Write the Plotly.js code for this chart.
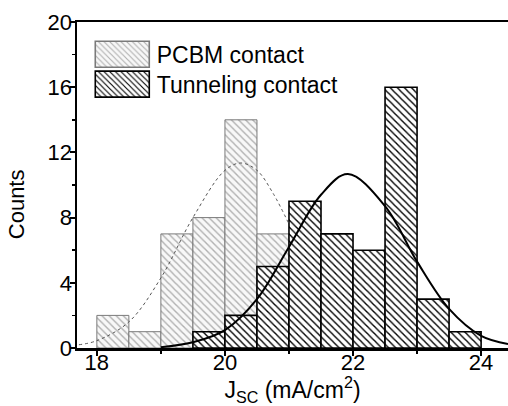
<!DOCTYPE html>
<html><head><meta charset="utf-8">
<script src="https://cdn.plot.ly/plotly-3.0.1.min.js"></script>
<style>html,body{margin:0;padding:0;background:#fff}#chart{width:508px;height:406px}</style>
</head><body><div id="chart"></div>
<script>
// Histogram bins (centers, width 0.5 mA/cm2) and counts
const pcbmBins = [18.25, 18.75, 19.25, 19.75, 20.25, 20.75];
const pcbmCounts = [2, 1, 7, 8, 14, 7];
const tunnelBins = [19.75, 20.25, 20.75, 21.25, 21.75, 22.25, 22.75, 23.25, 23.75];
const tunnelCounts = [1, 2, 5, 9, 7, 6, 16, 3, 1];
// Fit curves
const pcbmFitX = [17.72, 18.0, 18.5, 19.0, 19.5, 20.0, 20.25, 20.5, 20.75, 21.0];
const pcbmFitY = [0.2, 0.45, 1.6, 4.3, 8.0, 10.9, 11.35, 10.9, 9.5, 7.6];
const tunnelFitX = [19.0, 19.5, 20.0, 20.5, 21.0, 21.5, 21.92, 22.5, 23.0, 23.5, 24.0, 24.42];
const tunnelFitY = [0.05, 0.35, 1.1, 3.0, 6.2, 9.4, 10.67, 8.7, 5.3, 2.4, 0.75, 0.25];
const seriesNames = ['PCBM contact', 'Tunneling contact'];

const FONT = 'Liberation Sans, Arial, sans-serif';
const traces = [
  {type:'bar', x:pcbmBins, y:pcbmCounts, width:0.5, name:seriesNames[0],
   marker:{color:'#fbfbfb', line:{color:'#7a7a7a', width:1},
     pattern:{shape:'\\', fgcolor:'#b0b0b0', bgcolor:'#f8f8f8', size:5, solidity:0.28}}},
  {type:'bar', x:tunnelBins, y:tunnelCounts, width:0.5, name:seriesNames[1],
   marker:{color:'#ffffff', line:{color:'#000', width:1.6},
     pattern:{shape:'\\', fgcolor:'#000', bgcolor:'#ffffff', size:5, solidity:0.28}}},
  {type:'scatter', mode:'lines', x:pcbmFitX, y:pcbmFitY, showlegend:false,
   line:{color:'#555', width:1, dash:'dot', shape:'spline'}},
  {type:'scatter', mode:'lines', x:tunnelFitX, y:tunnelFitY, showlegend:false,
   line:{color:'#000', width:2, shape:'spline'}}
];
const layout = {
  width:508, height:406,
  margin:{l:77, r:0, t:22, b:58},
  paper_bgcolor:'#fff', plot_bgcolor:'#fff',
  barmode:'overlay', bargap:0,
  font:{family:FONT, size:22, color:'#000'},
  showlegend:true,
  legend:{x:0.025, y:0.97, xanchor:'left', yanchor:'top', bgcolor:'rgba(0,0,0,0)',
    font:{family:FONT, size:23, color:'#000'}, tracegroupgap:0, itemwidth:59},
  xaxis:{range:[17.69, 24.42], tick0:18, dtick:2, ticks:'outside', ticklen:5, tickwidth:2, tickcolor:'#000',
    ticklabelstandoff:-12,
    showline:true, linewidth:2.5, linecolor:'#000', mirror:true, showgrid:false, zeroline:false,
    minor:{dtick:1, ticks:'outside', ticklen:3, tickwidth:1.5, tickcolor:'#000'},
    tickfont:{family:FONT, size:22},
    title:{text:'J<sub>SC</sub> (mA/cm<sup>2</sup>)', font:{family:FONT, size:23}, standoff:16}},
  yaxis:{range:[0, 20], tick0:0, dtick:4, ticks:'outside', ticklen:5, tickwidth:2, tickcolor:'#000',
    ticklabelstandoff:-7,
    showline:true, linewidth:2.5, linecolor:'#000', mirror:false, showgrid:false, zeroline:false,
    minor:{dtick:2, ticks:'outside', ticklen:3, tickwidth:1.5, tickcolor:'#000'},
    tickfont:{family:FONT, size:22}},
  annotations:[{text:'Counts', xref:'paper', yref:'paper', x:-0.14, y:0.44, xanchor:'center', yanchor:'middle',
    textangle:-90, showarrow:false, font:{family:FONT, size:22, color:'#000'}}]
};
Plotly.newPlot('chart', traces, layout, {displayModeBar:false, staticPlot:true}).then(function(){
  document.querySelectorAll('.legend .traces .legendpoints path').forEach(function(p){
    p.setAttribute('d', 'M27,13H-27V-13H27Z');
    p.style.strokeWidth = '1.6px';
  });
  // tighten legend row spacing to match the reference
  const items = document.querySelectorAll('.legend .traces');
  items.forEach(function(g, i){
    const t = g.getAttribute('transform') || '';
    const m = t.match(/translate\(\s*([-\d.]+)[ ,]+([-\d.]+)\s*\)/);
    if (m) {
      const dy = i === 0 ? 1 : -2;
      g.setAttribute('transform', 'translate(' + m[1] + ',' + (parseFloat(m[2]) + dy) + ')');
    }
  });
});
</script>
</body></html>
